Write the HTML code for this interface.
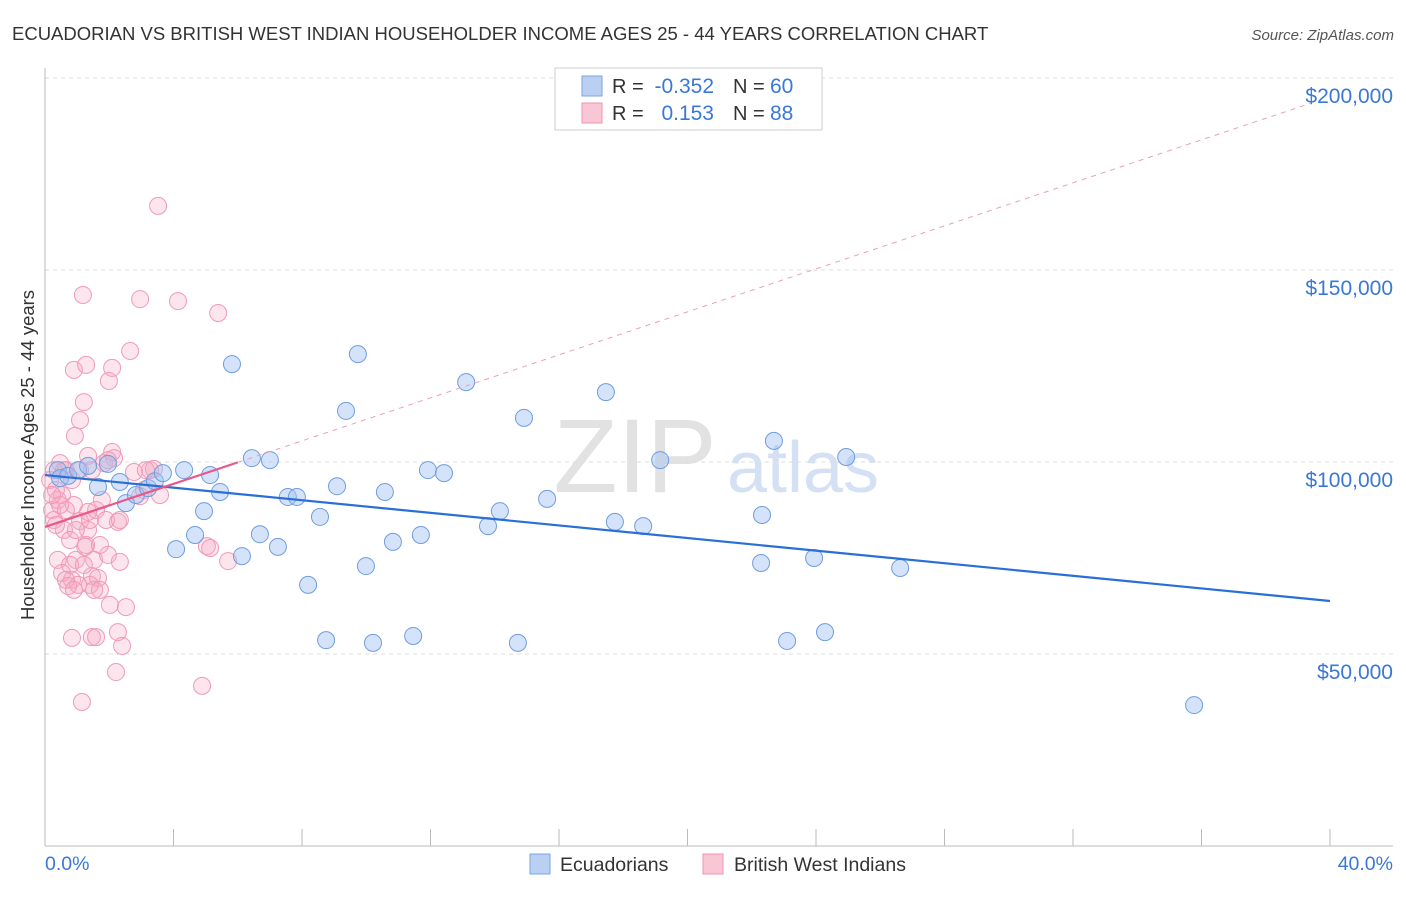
<!DOCTYPE html>
<html><head><meta charset="utf-8"><style>
body{margin:0;background:#fff;font-family:"Liberation Sans",sans-serif}
svg text{font-family:"Liberation Sans",sans-serif}
</style></head><body>
<svg id="chart" width="1406" height="892" viewBox="0 0 1406 892">
<text x="12" y="40" font-size="18.5" fill="#333">ECUADORIAN VS BRITISH WEST INDIAN HOUSEHOLDER INCOME AGES 25 - 44 YEARS CORRELATION CHART</text>
<text x="1394" y="40" font-size="15" fill="#555" text-anchor="end" font-style="italic">Source: ZipAtlas.com</text>
<text x="635" y="492" font-size="105" fill="#e2e2e2" text-anchor="middle" font-family="Liberation Serif">ZIP</text>
<text x="803" y="492" font-size="72" fill="#d4e1f4" text-anchor="middle">atlas</text>
<g id="grid"></g><g id="axes"></g><g id="marks"></g>
<text x="34" y="455" font-size="18.5" fill="#333" text-anchor="middle" transform="rotate(-90 34 455)">Householder Income Ages 25 - 44 years</text>
<text x="45" y="870" font-size="19.5" fill="#3a78d8">0.0%</text>
<text x="1393" y="870" font-size="19.5" fill="#3a78d8" text-anchor="end">40.0%</text>
<g>
<rect x="555" y="68" width="267" height="62" fill="#fff" stroke="#ccc"/>
<rect x="582" y="76" width="20" height="20" fill="#b9d0f3" stroke="#7aa4e0"/>
<rect x="582" y="103" width="20" height="20" fill="#f9c6d6" stroke="#ee94b3"/>
<text x="612" y="93" font-size="20" fill="#333">R =</text>
<text x="714" y="93" font-size="21" fill="#3a78d8" text-anchor="end">-0.352</text>
<text x="733" y="93" font-size="20" fill="#333">N =</text>
<text x="770" y="93" font-size="21" fill="#3a78d8">60</text>
<text x="612" y="120" font-size="20" fill="#333">R =</text>
<text x="714" y="120" font-size="21" fill="#3a78d8" text-anchor="end">0.153</text>
<text x="733" y="120" font-size="20" fill="#333">N =</text>
<text x="770" y="120" font-size="21" fill="#3a78d8">88</text>
</g>
<g>
<rect x="530" y="854" width="20" height="20" fill="#b9d0f3" stroke="#7aa4e0"/>
<text x="560" y="871" font-size="19.5" fill="#333">Ecuadorians</text>
<rect x="703" y="854" width="20" height="20" fill="#f9c6d6" stroke="#ee94b3"/>
<text x="734" y="871" font-size="19.5" fill="#333">British West Indians</text>
</g>
</svg>
<script>
const yTicks=[50000,100000,150000,200000];
const yTickLabels=["$50,000","$100,000","$150,000","$200,000"];
const xTicks=[0,4,8,12,16,20,24,28,32,36,40];
const blueX=[0.40,0.47,0.72,1.03,1.34,1.65,1.96,2.33,2.52,2.83,3.21,3.42,3.67,4.08,4.33,4.67,4.95,5.14,5.45,5.82,6.13,6.44,6.69,7.00,7.25,7.56,7.84,8.19,8.56,8.75,9.09,9.37,9.74,9.99,10.21,10.58,10.83,11.46,11.70,11.92,12.42,13.11,13.79,14.16,14.72,14.91,15.63,17.46,17.74,18.62,19.15,22.29,22.32,22.69,23.10,23.94,24.28,24.94,26.62,35.77];
const blueY=[97900,95800,96400,97900,99000,93500,99500,94800,89300,91400,93200,95000,97100,77300,97900,81000,87200,96600,92200,125500,75500,101000,81200,100500,77900,90900,90900,68000,85700,53600,93700,113300,128100,72900,52900,92200,79200,54700,81000,97900,97100,120800,83300,87200,52900,111500,90400,118200,84400,83300,100500,73700,86200,105500,53400,75000,55700,101300,72400,36700];
const pinkX=[0.16,0.22,0.28,0.34,0.40,0.47,0.53,0.59,0.65,0.78,0.84,0.84,0.90,0.93,0.96,1.03,1.09,1.09,1.15,1.18,1.21,1.25,1.28,1.34,1.34,1.40,1.46,1.46,1.53,1.59,1.59,1.65,1.71,1.84,1.90,1.96,1.99,2.02,2.09,2.09,2.15,2.21,2.27,2.27,2.33,2.40,2.52,2.65,2.96,3.27,3.39,3.52,3.58,4.14,4.89,5.04,5.14,5.39,5.70,0.34,0.40,0.53,0.65,0.72,0.78,0.90,0.96,1.09,1.21,1.28,1.34,1.40,1.53,0.65,0.47,0.22,0.28,1.71,1.77,1.96,1.46,0.90,0.59,0.84,2.33,2.77,2.96,3.08,3.14];
const pinkY=[95300,87500,84900,92700,90100,99700,91400,82300,97900,73200,69300,54200,124000,106800,74500,68000,84600,110900,37500,143500,115600,77900,125300,82300,101600,84900,70300,54400,74500,54400,87500,69800,66700,99700,84900,75800,121100,62800,124500,102600,101000,45300,84400,55700,74000,52100,62200,128900,142400,97900,98200,166700,91400,141900,41700,78100,77600,138800,74200,83600,74500,71100,69300,67700,79700,88800,82300,97900,73200,78400,87000,68000,66700,87500,88800,91400,97900,78400,90100,100500,97900,66700,97900,95300,84900,97400,91100,92700,97900];
const blueTrend=[96600,63800];
const pinkTrend=[83100,2800];
const NS="http://www.w3.org/2000/svg";
const X=v=>45+v*1285/40, Y=v=>846-v*192/50000;
function mk(t,a,p){const e=document.createElementNS(NS,t);for(const k in a)e.setAttribute(k,a[k]);p.appendChild(e);return e;}
const grid=document.getElementById('grid'),axes=document.getElementById('axes'),marks=document.getElementById('marks');
yTicks.forEach((v,i)=>{
 const l=mk('line',{x1:45,x2:1393,y1:Y(v),y2:Y(v),stroke:'#ddd','stroke-dasharray':'4,4'},grid);
 
 
 const t=mk('text',{x:1393,y:Y(v)+25,'font-size':21,fill:'#3a78d8','text-anchor':'end'},axes);
 t.textContent=yTickLabels[i];
 
 
});
const topLine=mk('line',{x1:45,x2:1393,y1:78,y2:78,stroke:'#ddd','stroke-dasharray':'4,4'},grid);


const ya=mk('line',{x1:45,x2:45,y1:68,y2:846,stroke:'#bbb'},axes);


const xa=mk('line',{x1:45,x2:1393,y1:846,y2:846,stroke:'#bbb'},axes);


xTicks.forEach(v=>{const t=mk('line',{x1:X(v),x2:X(v),y1:829,y2:846,stroke:'#bbb'},axes);
 
 });
pinkX.forEach((x,i)=>{const c=mk('circle',{cx:X(x),cy:Y(pinkY[i]),r:8.5,fill:'rgba(246,170,196,0.3)',stroke:'#f09ab8','stroke-width':1},marks);
 
 });
blueX.forEach((x,i)=>{const c=mk('circle',{cx:X(x),cy:Y(blueY[i]),r:8.5,fill:'rgba(160,192,242,0.45)',stroke:'#6f9de0','stroke-width':1},marks);
 
 });
const bt=mk('line',{x1:X(0),y1:Y(blueTrend[0]),x2:X(40),y2:Y(blueTrend[1]),stroke:'#2a6fd6','stroke-width':2.2},marks);


const pd=mk('line',{x1:X(6),y1:Y(pinkTrend[0]+6*pinkTrend[1]),x2:X(39.4),y2:Y(pinkTrend[0]+39.4*pinkTrend[1]),stroke:'#eaa0b8','stroke-width':1,'stroke-dasharray':'5,5'},marks);


const pt=mk('line',{x1:X(0),y1:Y(pinkTrend[0]),x2:X(6),y2:Y(pinkTrend[0]+6*pinkTrend[1]),stroke:'#e8588a','stroke-width':2.2},marks);


</script>
</body></html>
